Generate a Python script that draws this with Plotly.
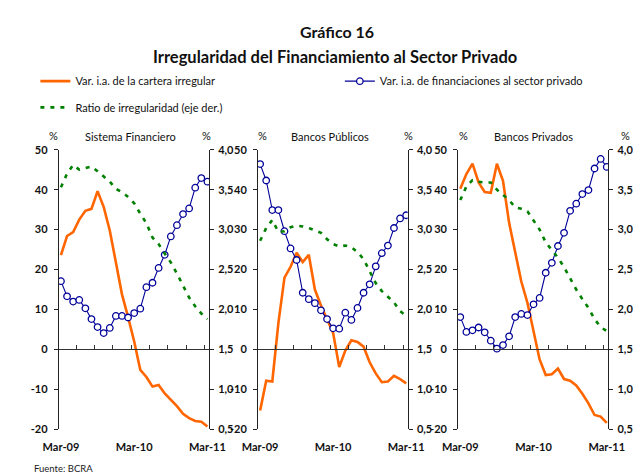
import plotly.graph_objects as go

months = ["Mar-09", "Abr-09", "May-09", "Jun-09", "Jul-09", "Ago-09", "Sep-09", "Oct-09",
          "Nov-09", "Dic-09", "Ene-10", "Feb-10", "Mar-10", "Abr-10", "May-10", "Jun-10",
          "Jul-10", "Ago-10", "Sep-10", "Oct-10", "Nov-10", "Dic-10", "Ene-11", "Feb-11", "Mar-11"]
shown_months = ["Mar-09", "Mar-10", "Mar-11"]

panel_titles = ["Sistema Financiero", "Bancos Públicos", "Bancos Privados"]

# Var. i.a. de la cartera irregular (%), left axis
cartera_sf = [23.6, 28.4, 29.4, 32.5, 34.7, 35.2, 39.6, 35.7, 29.8, 21.5, 13.8, 8.1, 2.0,
              -5.1, -6.9, -9.3, -8.9, -11.0, -12.6, -14.2, -16.1, -17.2, -17.9, -18.1, -19.3]
cartera_pub = [-15.3, -7.8, -8.0, 6.6, 18.0, 20.7, 24.2, 21.9, 23.7, 15.0, 11.0, 7.4, 4.1,
               -4.4, -0.3, 2.3, 1.9, 0.7, -3.2, -6.0, -8.2, -8.0, -6.6, -7.4, -8.5]
cartera_priv = [40.2, 43.9, 46.5, 41.8, 39.4, 39.2, 46.5, 42.2, 31.7, 24.3, 17.0, 11.7, 4.8,
                -2.5, -6.4, -6.2, -4.8, -7.4, -7.8, -9.0, -11.1, -13.5, -16.4, -16.8, -18.4]

# Var. i.a. de financiaciones al sector privado (%), left axis
financ_sf = [17.1, 13.3, 12.0, 12.4, 10.3, 7.6, 5.6, 4.1, 5.4, 8.4, 8.4, 8.0, 9.1,
             10.2, 15.6, 16.7, 20.4, 23.7, 28.3, 31.1, 33.9, 35.3, 40.5, 42.9, 42.0]
financ_pub = [46.4, 42.3, 34.9, 34.9, 29.6, 25.3, 22.4, 14.2, 12.6, 11.6, 9.8, 7.6, 5.3,
              5.2, 9.2, 7.4, 10.4, 14.2, 16.3, 20.8, 24.1, 26.0, 30.4, 32.8, 33.6]
financ_priv = [8.1, 4.4, 4.8, 5.5, 4.3, 2.2, 0.2, 1.1, 3.3, 8.1, 8.9, 8.6, 11.3,
               12.9, 19.2, 21.7, 25.9, 29.2, 34.7, 36.5, 38.9, 39.9, 45.3, 47.7, 45.7]

# Ratio de irregularidad (%), right axis
ratio_sf = [3.53, 3.70, 3.81, 3.75, 3.77, 3.79, 3.73, 3.66, 3.60, 3.51, 3.47, 3.41, 3.33,
            3.20, 3.08, 2.90, 2.82, 2.70, 2.59, 2.45, 2.29, 2.15, 2.04, 1.95, 1.88]
ratio_pub = [2.86, 3.02, 3.12, 2.97, 2.98, 3.03, 3.05, 3.04, 3.02, 2.99, 2.96, 2.88, 2.82,
             2.79, 2.80, 2.78, 2.72, 2.63, 2.48, 2.33, 2.23, 2.16, 2.09, 1.98, 1.92]
ratio_priv = [3.37, 3.54, 3.62, 3.60, 3.59, 3.59, 3.50, 3.43, 3.37, 3.28, 3.26, 3.23, 3.12,
              3.00, 2.84, 2.74, 2.65, 2.53, 2.38, 2.25, 2.13, 2.02, 1.88, 1.78, 1.73]

left_ticks = [-20, -10, 0, 10, 20, 30, 40, 50]
left_tick_labels = ["-20", "-10", "0", "10", "20", "30", "40", "50"]
right_ticks = [0.5, 1.0, 1.5, 2.0, 2.5, 3.0, 3.5, 4.0]
right_tick_labels = ["0,5", "1,0", "1,5", "2,0", "2,5", "3,0", "3,5", "4,0"]

ORANGE = "#FF6600"
BLUE = "#000099"
GREEN = "#008000"
FONT = "Lato"
W, H = 641, 476

x_idx = list(range(len(months)))
label_vals = [months.index(m) for m in shown_months]
boundary_ticks = [i - 0.5 for i in range(0, len(months), 3)]

panels_px = [(36.7, 195.0), (246.7, 404.5), (457.7, 616.0)]
y_top_px, y_bot_px = 138.5, 426.0
ydom = [1 - y_bot_px / H, 1 - y_top_px / H]
zero_pos = ydom[0] + (0 - left_ticks[0]) / (left_ticks[-1] - left_ticks[0]) * (ydom[1] - ydom[0])
xrange_ = [-0.35, 24.25]

data_sets = [
    (cartera_sf, financ_sf, ratio_sf),
    (cartera_pub, financ_pub, ratio_pub),
    (cartera_priv, financ_priv, ratio_priv),
]


def lay_key(a):
    if a[0] == "x":
        return "xaxis" + a[1:]
    return "yaxis" + a[1:]


fig = go.Figure()
layout = {}
tickfont = dict(family=FONT, size=11, color="#111", weight="bold")

for p, (car, fin, rat) in enumerate(data_sets):
    n = p + 1
    xa = "x" if n == 1 else f"x{n}"
    ya = "y" if n == 1 else f"y{n}"
    yr = f"y{n + 3}"
    xz = f"x{n + 3}"
    first = p == 0
    # invisible carrier so the zero-line axis (with its tick marks) is drawn
    fig.add_trace(go.Scatter(x=x_idx, y=car, xaxis=xz, yaxis=ya, mode="none",
                             hoverinfo="skip", showlegend=False))
    fig.add_trace(go.Scatter(x=x_idx, y=car, xaxis=xa, yaxis=ya, mode="lines",
                             line=dict(color=ORANGE, width=2.6),
                             name="Var. i.a. de la cartera irregular",
                             showlegend=first, legend="legend"))
    fig.add_trace(go.Scatter(x=x_idx, y=fin, xaxis=xa, yaxis=ya, mode="lines+markers",
                             line=dict(color=BLUE, width=1.1),
                             marker=dict(symbol="circle", size=6.5, color="white",
                                         line=dict(color=BLUE, width=1.3)),
                             name="Var. i.a. de financiaciones al sector privado",
                             showlegend=first, legend="legend2"))
    fig.add_trace(go.Scatter(x=x_idx, y=rat, xaxis=xa, yaxis=yr, mode="lines",
                             line=dict(color=GREEN, width=2.6, dash="4px,6px"),
                             name="Ratio de irregularidad (eje der.)",
                             showlegend=first, legend="legend3"))

    dom = [panels_px[p][0] / W, panels_px[p][1] / W]
    layout[lay_key(xa)] = dict(domain=dom, anchor=ya, range=xrange_, showline=False, showgrid=False,
                               zeroline=False, ticks="", tickvals=label_vals, ticktext=shown_months,
                               tickfont=tickfont, ticklabelstandoff=10)
    layout[lay_key(xz)] = dict(overlaying=xa, anchor="free", position=zero_pos, range=xrange_,
                               showline=True, linecolor="#333", linewidth=1, showgrid=False,
                               zeroline=False, ticks="inside", ticklen=4, tickcolor="#333",
                               tickvals=boundary_ticks, showticklabels=False)
    layout[lay_key(ya)] = dict(domain=ydom, anchor=xa, range=[left_ticks[0], left_ticks[-1]],
                               showline=True, linecolor="#222", linewidth=1, showgrid=False,
                               zeroline=False, ticks="outside", ticklen=4, tickcolor="#222",
                               tickvals=left_ticks, ticktext=left_tick_labels, tickfont=tickfont,
                               ticklabelstandoff=4)
    layout[lay_key(yr)] = dict(overlaying=ya, anchor=xa, side="right",
                               range=[right_ticks[0], right_ticks[-1]],
                               showline=True, linecolor="#222", linewidth=1, showgrid=False,
                               zeroline=False, ticks="outside", ticklen=4, tickcolor="#222",
                               tickvals=right_ticks, ticktext=right_tick_labels, tickfont=tickfont,
                               ticklabelstandoff=2)

annotations = [
    dict(text="Gráfico 16", x=330 / W, y=1 - 17 / H, font=dict(family=FONT, size=16, color="#111", weight="bold")),
    dict(text="Irregularidad del Financiamiento al Sector Privado", x=328 / W, y=1 - 43 / H,
         font=dict(family=FONT, size=16.5, color="#111", weight="bold")),
    dict(text="Fuente: BCRA", x=8 / W, y=1 - 466 / H, xanchor="left", font=dict(family=FONT, size=9.5, color="#222")),
]
title_centers = [112, 323, 537]
pct_left = [31, 251, 463]
pct_right = [192, 405, 634]
for i in range(3):
    annotations.append(dict(text=panel_titles[i], x=title_centers[i] / W, y=1 - 125 / H,
                            font=dict(family=FONT, size=11, color="#111")))
    annotations.append(dict(text="%", x=pct_left[i] / W, y=1 - 124 / H,
                            font=dict(family=FONT, size=11, color="#111")))
    annotations.append(dict(text="%", x=pct_right[i] / W, y=1 - 124 / H,
                            font=dict(family=FONT, size=11, color="#111")))
for a in annotations:
    a.update(xref="paper", yref="paper", showarrow=False)
    a.setdefault("xanchor", "center")
    a.setdefault("yanchor", "middle")

leg_common = dict(orientation="h", xanchor="left", yanchor="middle", itemwidth=30,
                  font=dict(family=FONT, size=11, color="#111"), bgcolor="rgba(0,0,0,0)")

fig.update_layout(
    width=W, height=H, margin=dict(l=0, r=0, t=0, b=0),
    paper_bgcolor="white", plot_bgcolor="white",
    separators=",.",
    font=dict(family=FONT, size=11, color="#111"),
    annotations=annotations,
    legend=dict(x=12 / W, y=1 - 68 / H, **leg_common),
    legend2=dict(x=333 / W, y=1 - 68 / H, **leg_common),
    legend3=dict(x=12 / W, y=1 - 95 / H, **leg_common),
    **layout,
)

fig.write_html("out.html")
